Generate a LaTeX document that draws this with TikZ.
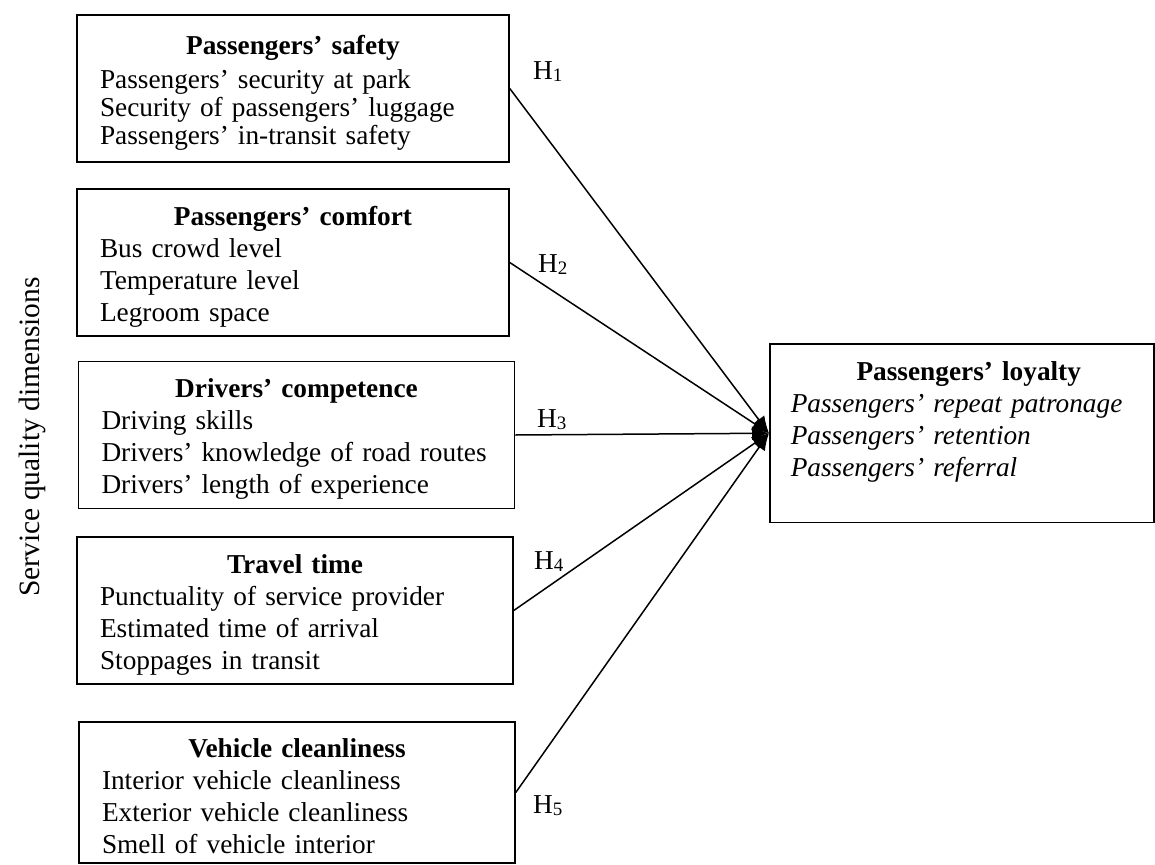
\documentclass[tikz,border=0pt]{standalone}
\usepackage{fontspec}
\setmainfont{Liberation Serif}
\usetikzlibrary{arrows.meta}
\usetikzlibrary{positioning}

\newcommand{\hyp}[1]{H\raisebox{-2pt}{\fontsize{19}{19}\selectfont #1}}
\newcommand{\boxtitle}[1]{\makebox[\hsize]{\rule{0pt}{27pt}\bfseries #1}}

\begin{document}
\begin{tikzpicture}[x=1pt, y=-1pt,
        dim/.style={draw, line width=1.5pt, align=left, inner xsep=23pt, inner ysep=0pt,
            text width=386pt, minimum height=147pt, font=\fontsize{27.3}{32}\selectfont},
        loyal/.style={draw, line width=1.5pt, align=left, inner xsep=21pt, inner ysep=18pt,
            text width=342pt, text depth=124pt, font=\fontsize{27.3}{32}\selectfont},
        hyplabel/.style={anchor=base west, inner sep=0pt, font=\fontsize{27.3}{32}\selectfont},
        hyparrow/.style={line width=1.5pt, -{Latex[length=17pt,width=14pt]}}]

            \useasboundingbox (0,0) rectangle (1155,864);

            \node[dim, font=\fontsize{27.3}{28}\selectfont] (b_1) at (293,88.5)
                {\boxtitle{Passengers’ safety}\\[6pt]Passengers’ security at park\\Security of passengers’ luggage\\Passengers’ in-transit safety};
            \node[dim] (b_2) at (293,262.5)
                {\boxtitle{Passengers’ comfort}\\Bus crowd level\\Temperature level\\Legroom space};
            \node[dim, text width=390pt] (b_3) at (296.5,435)
                {\boxtitle{Drivers’ competence}\\Driving skills\\Drivers’ knowledge of road routes\\Drivers’ length of experience};
            \node[dim, text width=390pt] (b_4) at (295,610.5)
                {\boxtitle{Travel time}\\Punctuality of service provider\\Estimated time of arrival\\Stoppages in transit};
            \node[dim, text width=390pt, minimum height=141pt] (b_5) at (297,792.5)
                {\boxtitle{Vehicle cleanliness}\\Interior vehicle cleanliness\\Exterior vehicle cleanliness\\Smell of vehicle interior};

            \node[loyal, anchor=north west] (loy) at (769,343)
                {\makebox[\hsize]{\hspace{14pt}\bfseries Passengers’ loyalty}\\\itshape Passengers’ repeat patronage\\\itshape Passengers’ retention\\\itshape Passengers’ referral};

            \node[rotate=90, font=\fontsize{29.5}{30}\selectfont] (sqd) at (32,437) {Service quality dimensions};

            \path[hyparrow]
                (b_1.east) edge (loy.west)
                (b_2.east) edge (loy.west)
                (b_3.east) edge (loy.west)
                (b_4.east) edge (loy.west)
                (b_5.east) edge (loy.west);

            \node[hyplabel] (h_1) at (533,80)  {\hyp{1}};
            \node[hyplabel] (h_2) at (538,272) {\hyp{2}};
            \node[hyplabel] (h_3) at (537,427) {\hyp{3}};
            \node[hyplabel] (h_4) at (534,569) {\hyp{4}};
            \node[hyplabel] (h_5) at (533,813) {\hyp{5}};

        \end{tikzpicture}
\end{document}
